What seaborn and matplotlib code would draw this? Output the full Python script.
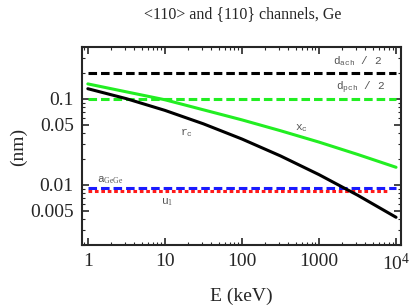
import seaborn as sns
import matplotlib.pyplot as plt
from matplotlib.ticker import FixedLocator, FixedFormatter, NullFormatter

# --- data ---
e_curve = [1, 3.16, 10, 31.6, 100, 316, 1000, 3160, 10000]
rc = [0.131, 0.1004, 0.0734, 0.0512, 0.0341, 0.0217, 0.01315, 0.0076, 0.0042]
xc = [0.149, 0.1205, 0.0975, 0.0745, 0.0569, 0.0426, 0.0314, 0.0226, 0.016]

e_flat = [1, 10000]
d_ach_half = [0.2, 0.2]
d_pch_half = [0.1, 0.1]
a_gege = [0.0093, 0.0093]
e_u1 = [1, 8000]
u1 = [0.0085, 0.0085]

x_ticks = [1, 10, 100, 1000, 10000]
x_ticklabels = ['1', '10', '100', '1000', r'$10^4$']
y_ticks = [0.005, 0.01, 0.05, 0.1]
y_ticklabels = ['0.005', '0.01', '0.05', '0.1']

sns.set_style('ticks')
plt.rcParams['font.family'] = ['Liberation Serif', 'DejaVu Serif']
plt.rcParams['mathtext.fontset'] = 'custom'
plt.rcParams['mathtext.rm'] = 'Liberation Serif'
plt.rcParams['mathtext.it'] = 'Liberation Serif:italic'
plt.rcParams['mathtext.tt'] = 'Liberation Mono'

fig = plt.figure(figsize=(4.11, 3.07), dpi=100)
ax = fig.add_axes([82/411, 1 - 245/307, 319/411, 198/307])

green = '#22ee22'
sns.lineplot(x=e_flat, y=d_ach_half, ax=ax, color='black', lw=2.2, linestyle=(0, (2.8, 1.3)))
sns.lineplot(x=e_flat, y=d_pch_half, ax=ax, color=green, lw=2.2, linestyle=(0, (2.8, 1.3)))
sns.lineplot(x=e_flat, y=a_gege, ax=ax, color='#1a1aff', lw=2.2, linestyle=(0, (2.8, 1.3)))
sns.lineplot(x=e_u1, y=u1, ax=ax, color='#ff1a1a', lw=2.2, linestyle=(0, (1.2, 0.9)))
sns.lineplot(x=e_curve, y=xc, ax=ax, color=green, lw=2.2)
sns.lineplot(x=e_curve, y=rc, ax=ax, color='black', lw=2.2)

ax.set_xscale('log')
ax.set_yscale('log')
ax.set_xlim(0.84, 11600)
ax.set_ylim(0.002, 0.4)

ax.xaxis.set_major_locator(FixedLocator(x_ticks))
ax.xaxis.set_major_formatter(FixedFormatter(x_ticklabels))
ax.xaxis.set_minor_formatter(NullFormatter())
ax.yaxis.set_major_locator(FixedLocator(y_ticks))
ax.yaxis.set_major_formatter(FixedFormatter(y_ticklabels))
ax.yaxis.set_minor_locator(FixedLocator([0.002, 0.003, 0.004, 0.006, 0.007, 0.008, 0.009,
                                         0.02, 0.03, 0.04, 0.06, 0.07, 0.08, 0.09,
                                         0.2, 0.3, 0.4]))
ax.yaxis.set_minor_formatter(NullFormatter())

ax.tick_params(which='both', direction='in', top=True, right=True, labelsize=14, width=1.2)
ax.tick_params(which='major', length=5, pad=6)
ax.tick_params(which='minor', length=2.5, width=0.8)
for s in ax.spines.values():
    s.set_linewidth(1.5)

ax.set_xlabel('E (keV)', fontsize=14)
ax.set_ylabel('(nm)', fontsize=14)
ax.xaxis.set_label_coords(0.5, -0.217)
ax.yaxis.set_label_coords(-0.172, 0.495)

# curve labels
lab = dict(color='#555555', fontsize=8, ha='center', va='center')
ax.text(3200, 0.27, r'$\mathtt{d}_{\mathtt{ach}}$ / 2', family='Liberation Mono', **lab)
ax.text(3500, 0.134, r'$\mathtt{d}_{\mathtt{pch}}$ / 2', family='Liberation Mono', **lab)
ax.text(19, 0.040, r'$\mathtt{r}_{\mathtt{c}}$', **lab)
ax.text(600, 0.046, r'$\mathtt{x}_{\mathtt{c}}$', **lab)
ax.text(1.95, 0.0114, r'$\mathtt{a}_{\mathrm{GeGe}}$', **lab)
ax.text(10.6, 0.0063, r'$\mathtt{u}_{1}$', **lab)

fig.text(243/411, 1 - 14/307, '<110> and {110} channels, Ge', ha='center', va='center', fontsize=11.5)

fig.savefig('out.png', dpi=100)
